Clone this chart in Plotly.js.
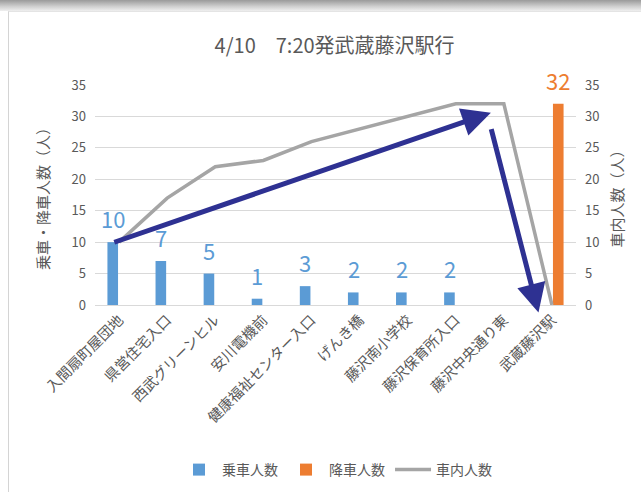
<!DOCTYPE html>
<html>
<head>
<meta charset="utf-8">
<script src="https://cdn.plot.ly/plotly-3.0.1.min.js"></script>
<style>
  html, body { margin: 0; padding: 0; background: #fff; }
  #wrap { position: relative; width: 641px; height: 492px; overflow: hidden; }
  #chart { position: absolute; left: 0; top: 0; width: 641px; height: 492px; }
  #topband { position: absolute; left: 0; top: 0; width: 641px; height: 11px;
    background: linear-gradient(#9a9a9a, #d0d0d0 60%, #efefef); pointer-events: none; }
  #frame { position: absolute; left: 8px; top: 11px; width: 700px; height: 600px;
    border-left: 1px solid #d4d4d4; border-top: 1px solid #e4e4e4; pointer-events: none; }
</style>
</head>
<body>
<div id="wrap">
  <div id="chart"></div>
  <div id="topband"></div>
  <div id="frame"></div>
</div>
<script>
const chartTitle = '4/10\u30007:20発武蔵藤沢駅行';
const stops = ['入間扇町屋団地', '県営住宅入口', '西武グリーンヒル', '安川電機前', '健康福祉センター入口',
  'げんき橋', '藤沢南小学校', '藤沢保育所入口', '藤沢中央通り東', '武蔵藤沢駅'];
const boarding  = [10, 7, 5, 1, 3, 2, 2, 2, 0, 0];
const alighting = [0, 0, 0, 0, 0, 0, 0, 0, 0, 32];
const onboard   = [10, 17, 22, 23, 26, 28, 30, 32, 32, 0];
const seriesNames = ['乗車人数', '降車人数', '車内人数'];
const leftTitle = '乗車・降車人数（人）';
const rightTitle = '車内人数（人）';
// decorative arrows: [tailX, tailY, tipX, tipY] in axis units
const arrows = [
  [-0.13, 9.9, 7.73, 30.6],
  [7.73, 28.2, 8.72, -1.2]
];

const grey = '#595959';
const blue = '#5B9BD5';
const orange = '#ED7D31';
const font = 'Noto Sans CJK JP, sans-serif';

const traces = [
  { type: 'bar', name: seriesNames[0], x: stops, y: boarding, marker: { color: blue }, hoverinfo: 'none' },
  { type: 'bar', name: seriesNames[1], x: stops, y: alighting, marker: { color: orange }, hoverinfo: 'none' },
  { type: 'scatter', mode: 'lines', name: seriesNames[2], x: stops, y: onboard, yaxis: 'y2',
    line: { color: '#A5A5A5', width: 3.5 }, hoverinfo: 'none', cliponaxis: false }
];

// data labels (only non-zero values), placed above each bar of its group
function labels(values, color, xshift) {
  const out = [];
  values.forEach((v, i) => {
    if (v > 0) out.push({ xref: 'x', yref: 'y', x: stops[i], y: v, text: String(v), showarrow: false,
      xanchor: 'center', yanchor: 'bottom', xshift: xshift, yshift: 6,
      font: { size: 22, color: color, family: font } });
  });
  return out;
}

const arrowAnns = arrows.map(a => ({
  xref: 'x', yref: 'y', axref: 'x', ayref: 'y',
  x: a[2], y: a[3], ax: a[0], ay: a[1], text: '', showarrow: true,
  arrowcolor: '#2E3192', arrowwidth: 5, arrowhead: 2, arrowsize: 1.15, standoff: 0, startstandoff: 0
}));

const layout = {
  width: 641, height: 492, autosize: false,
  margin: { l: 95, r: 65, t: 85, b: 187, pad: 0 },
  paper_bgcolor: '#ffffff', plot_bgcolor: 'rgba(0,0,0,0)',
  font: { family: font, color: grey },
  title: { text: chartTitle, font: { size: 20, color: grey, family: font },
    xref: 'container', yref: 'container', x: 0.522, y: 1 - 46 / 492, xanchor: 'center', yanchor: 'middle' },
  barmode: 'group', bargap: 0.475, bargroupgap: 0.16,
  xaxis: { type: 'category', range: [-0.5, 9.5], tickangle: -45, showgrid: false, automargin: false,
    showline: true, linecolor: '#D9D9D9', linewidth: 1, ticks: '', zeroline: false,
    tickfont: { size: 14.5, color: grey, family: font } },
  yaxis: { range: [0, 35], dtick: 5, gridcolor: '#D9D9D9', zeroline: false, showline: false, automargin: false,
    ticks: '', ticklabelstandoff: 8, tickfont: { size: 13, color: grey, family: font },
    title: { text: leftTitle, font: { size: 15, color: grey, family: font }, standoff: 18 } },
  yaxis2: { overlaying: 'y', side: 'right', range: [0, 35], dtick: 5, showgrid: false, zeroline: false, automargin: false,
    ticks: '', ticklabelstandoff: 8, tickfont: { size: 13, color: grey, family: font },
    title: { text: rightTitle, font: { size: 15, color: grey, family: font }, standoff: 14 } },
  legend: { orientation: 'h', xref: 'container', yref: 'container', x: 0.525, xanchor: 'center',
    y: (492 - 470) / 492, yanchor: 'middle', itemwidth: 36,
    font: { size: 14, color: grey, family: font }, traceorder: 'normal' },
  showlegend: true,
  annotations: labels(boarding, blue, -6).concat(labels(alighting, orange, 6), arrowAnns)
};

Plotly.newPlot('chart', traces, layout, { staticPlot: true, displayModeBar: false });
</script>
</body>
</html>
